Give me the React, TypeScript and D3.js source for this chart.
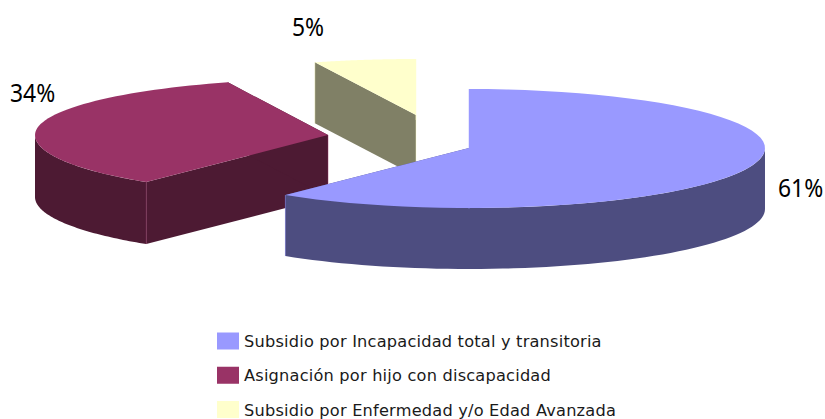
import * as d3 from "d3";
import React from "react";

const categories = [
  "Subsidio por Incapacidad total y transitoria",
  "Asignación por hijo con discapacidad",
  "Subsidio por Enfermedad y/o Edad Avanzada",
];
const shares = [60.65, 33.8, 5.55];
const shareLabels = ["61%", "34%", "5%"];
const topColors = ["#9999FF", "#993366", "#FFFFCC"];
const sideColors = ["#4D4D80", "#4D1A33", "#808066"];

// where each exploded slice sits
const centerX = [469, 328, 416];
const centerY = [148, 135, 115];
const radiusX = [296, 293, 296];
const radiusYBack = [59, 56, 56];
const radiusYFront = [60, 60, 60];
const depths = [61, 62, 61];

const labelX = [778, 10, 292];
const labelY = [197, 102, 36];

const legendY = d3.scalePoint<string>().domain(categories).range([341, 409.5]);

const pieAngles = d3
  .pie<number>()
  .sort(null)
  .startAngle(0)
  .endAngle(Math.PI * 2)(shares);

const ringPoint = (i: number, a: number, drop = 0): [number, number] => {
  const c = Math.cos(a);
  const ry = c > 0 ? radiusYBack[i] : radiusYFront[i];
  return [centerX[i] + radiusX[i] * Math.sin(a), centerY[i] - ry * c + drop];
};

const line = d3.line();

const arcPoints = (i: number, from: number, to: number, drop = 0) =>
  d3.range(0, 61).map((k) => ringPoint(i, from + ((to - from) * k) / 60, drop));

const PieSlice = ({ i }: { i: number }) => {
  const { startAngle, endAngle } = pieAngles[i];
  const tip: [number, number] = [centerX[i], centerY[i]];
  const tipLow: [number, number] = [centerX[i], centerY[i] + depths[i]];
  const top = line([tip, ...arcPoints(i, startAngle, endAngle)]) + "Z";

  const radialWall = (a: number) =>
    line([tip, ringPoint(i, a), ringPoint(i, a, depths[i]), tipLow]) + "Z";

  // only the front half of the rim can be seen
  const rimFrom = Math.max(startAngle, Math.PI / 2);
  const rimTo = Math.min(endAngle, (Math.PI * 3) / 2);
  const rim =
    rimFrom < rimTo
      ? line([
          ...arcPoints(i, rimFrom, rimTo),
          ...arcPoints(i, rimFrom, rimTo, depths[i]).reverse(),
        ]) + "Z"
      : null;

  // thin pale seams on the upright edges, the top hides the ones behind it
  const seams = [
    [tip, tipLow],
    [ringPoint(i, startAngle), ringPoint(i, startAngle, depths[i])],
    [ringPoint(i, endAngle), ringPoint(i, endAngle, depths[i])],
  ] as [number, number][][];

  return (
    <g>
      <path d={radialWall(startAngle)} fill={sideColors[i]} />
      <path d={radialWall(endAngle)} fill={sideColors[i]} />
      {rim && <path d={rim} fill={sideColors[i]} />}
      {seams.map((s, k) => (
        <path
          key={k}
          d={line(s) as string}
          stroke={topColors[i]}
          strokeOpacity={0.45}
          strokeWidth={1}
          fill="none"
        />
      ))}
      <path d={top} fill={topColors[i]} />
    </g>
  );
};

export default function App() {
  return (
    <svg
      width={825}
      height={419}
      viewBox="0 0 825 419"
      style={{ position: "absolute", left: 0, top: 0, background: "#fff" }}
    >
      {/* back to front: yellow, maroon, blue */}
      <PieSlice i={2} />
      <PieSlice i={1} />
      <PieSlice i={0} />

      {shareLabels.map((label, i) => (
        <text
          key={label}
          transform={`translate(${labelX[i]},${labelY[i]}) scale(0.88,1)`}
          fontFamily="'Noto Sans'"
          fontSize={26}
          fill="#000"
        >
          {label}
        </text>
      ))}

      {categories.map((name, i) => (
        <g key={name}>
          <rect
            x={217}
            y={(legendY(name) as number) - 8.5}
            width={22}
            height={17}
            fill={topColors[i]}
          />
          <text
            x={244}
            y={(legendY(name) as number) + 6}
            fontFamily="'DejaVu Sans'"
            fontSize={16.2}
            letterSpacing={0.2}
            fill="#1a1a1a"
          >
            {name}
          </text>
        </g>
      ))}
    </svg>
  );
}
